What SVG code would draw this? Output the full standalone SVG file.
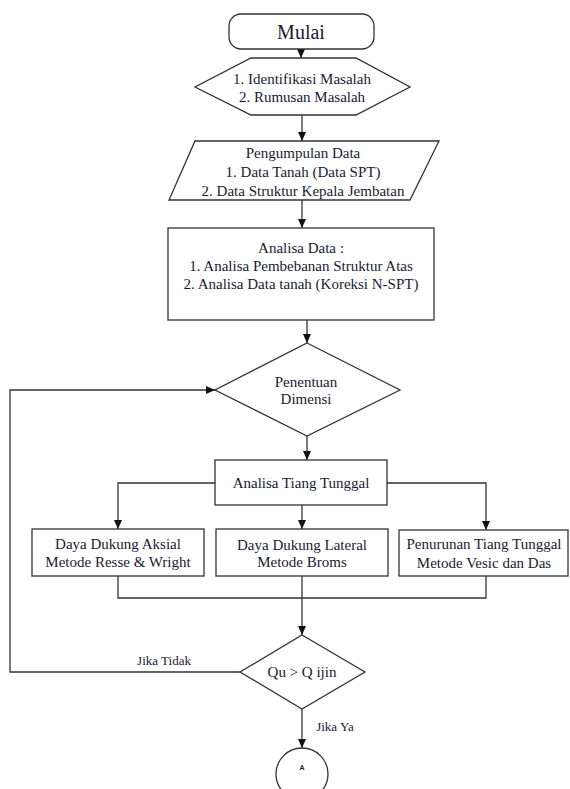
<svg xmlns="http://www.w3.org/2000/svg" width="570" height="789" viewBox="0 0 570 789">
<style>
.s{fill:#fff;stroke:#333;stroke-width:1.3}
.c{fill:none;stroke:#333;stroke-width:1.3}
text{font-family:"Liberation Serif","Times New Roman",serif;font-size:15px;fill:#1a1a33;text-anchor:middle}
.lbl{font-size:13px}
.big{font-size:20px}
.tiny{font-family:"Liberation Sans",Arial,sans-serif;font-size:7px;font-weight:bold}
</style>
<defs>
<marker id="ah" markerUnits="userSpaceOnUse" markerWidth="9" markerHeight="8" refX="9" refY="4" orient="auto">
<path d="M0,0 L9,4 L0,8 z" fill="#111"/>
</marker>
</defs>
<rect width="570" height="789" fill="#fff"/>
<g id="connectors">
<path class="c" d="M301,49 V58" marker-end="url(#ah)"/>
<path class="c" d="M302,115 V141" marker-end="url(#ah)"/>
<path class="c" d="M302,200 V228" marker-end="url(#ah)"/>
<path class="c" d="M307,320 V343" marker-end="url(#ah)"/>
<path class="c" d="M307,436 V460" marker-end="url(#ah)"/>
<path class="c" d="M215,483 H118 V529" marker-end="url(#ah)"/>
<path class="c" d="M302,505 V529" marker-end="url(#ah)"/>
<path class="c" d="M387,483 H486 V530" marker-end="url(#ah)"/>
<path class="c" d="M118,576 V598 H486 V576"/>
<path class="c" d="M302,576 V635" marker-end="url(#ah)"/>
<path class="c" d="M302,709 V748" marker-end="url(#ah)"/>
<path class="c" d="M240,672 H10 V390 H215" marker-end="url(#ah)"/>
<text class="lbl" x="164" y="665">Jika Tidak</text>
<text class="lbl" x="335" y="731">Jika Ya</text>
</g>
<g id="mulai">
<rect class="s" x="229" y="14" width="145" height="35" rx="12"/>
<text class="big" x="301" y="39">Mulai</text>
</g>
<g id="identifikasi">
<polygon class="s" points="251,58 356,58 410,87 356,115 251,115 195,87"/>
<text x="302" y="84">1. Identifikasi Masalah</text>
<text x="302" y="102">2. Rumusan Masalah</text>
</g>
<g id="pengumpulan">
<polygon class="s" points="195,141 439,141 410,200 169,200"/>
<text x="303" y="158">Pengumpulan Data</text>
<text x="303" y="177">1. Data Tanah (Data SPT)</text>
<text x="303" y="196">2. Data Struktur Kepala Jembatan</text>
</g>
<g id="analisa-data">
<rect class="s" x="168" y="228" width="266" height="92"/>
<text x="301" y="253">Analisa Data :</text>
<text x="301" y="271">1. Analisa Pembebanan Struktur Atas</text>
<text x="301" y="289">2. Analisa Data tanah (Koreksi N-SPT)</text>
</g>
<g id="penentuan">
<polygon class="s" points="307,343 400,390 307,436 215,390"/>
<text x="306" y="387">Penentuan</text>
<text x="306" y="404">Dimensi</text>
</g>
<g id="analisa-tiang">
<rect class="s" x="215" y="460" width="172" height="45"/>
<text x="301" y="488">Analisa Tiang Tunggal</text>
</g>
<g id="aksial">
<rect class="s" x="32" y="529" width="172" height="47"/>
<text x="118" y="549">Daya Dukung Aksial</text>
<text x="118" y="567">Metode Resse &amp; Wright</text>
</g>
<g id="lateral">
<rect class="s" x="216" y="529" width="172" height="47"/>
<text x="302" y="550">Daya Dukung Lateral</text>
<text x="302" y="567">Metode Broms</text>
</g>
<g id="penurunan">
<rect class="s" x="399" y="530" width="169" height="46"/>
<text x="484" y="549">Penurunan Tiang Tunggal</text>
<text x="484" y="568">Metode Vesic dan Das</text>
</g>
<g id="qu">
<polygon class="s" points="302,635 365,672 302,709 240,672"/>
<text x="302" y="677">Qu &gt; Q ijin</text>
</g>
<g id="a">
<circle class="s" cx="302" cy="774" r="26"/>
<text class="tiny" x="302" y="770">A</text>
</g>
</svg>
